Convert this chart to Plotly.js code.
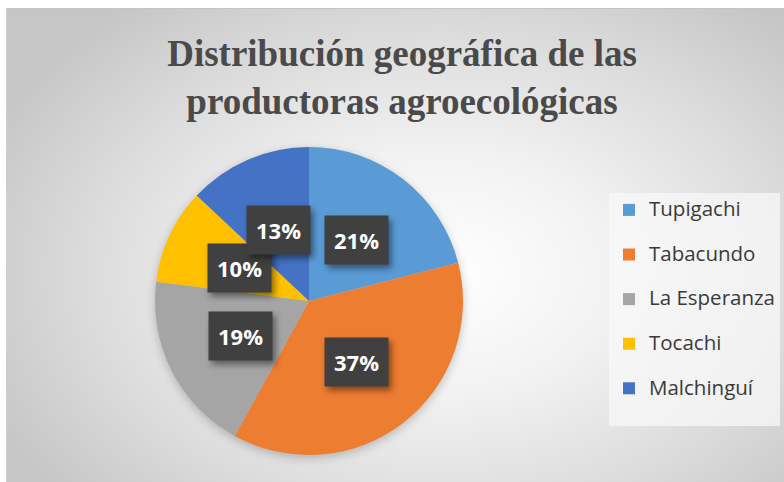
<!DOCTYPE html>
<html>
<head>
<meta charset="utf-8">
<script src="https://cdn.plot.ly/plotly-3.0.1.min.js"></script>
<style>
  html, body { margin: 0; padding: 0; background: #ffffff; overflow: hidden; }
  #frame {
    position: absolute; left: 6px; top: 8px; width: 800px; height: 490px;
    background: radial-gradient(ellipse 62% 70% at 54% 54%, #ffffff 0%, #f2f2f2 35%, #dcdcdc 70%, #c6c6c6 100%);
    border-top: 1px solid #c4c4c4; border-left: 1px solid #d0d0d0;
  }
  #chart { position: absolute; left: 0; top: 0; width: 784px; height: 482px; }
  #chart .pielayer { filter: drop-shadow(0px 3px 5px rgba(0,0,0,0.22)); }
  #chart .annotation rect.bg { filter: drop-shadow(3px 4px 3px rgba(0,0,0,0.45)); }
</style>
</head>
<body>
<div id="frame"></div>
<div id="chart"></div>
<script>
// ---- data ----
const categories = ['Tupigachi', 'Tabacundo', 'La Esperanza', 'Tocachi', 'Malchinguí'];
const values = [21, 37, 19, 10, 13];
const colors = ['#5B9BD5', '#ED7D31', '#A5A5A5', '#FFC000', '#4472C4'];
const titleText = 'Distribución geográfica de las<br>productoras agroecológicas';

// ---- layout geometry ----
const W = 784, H = 482;
const domX = [155 / W, 463 / W];
const domY = [1 - 455 / H, 1 - 147 / H];
const cx = (domX[0] + domX[1]) / 2, cy = (domY[0] + domY[1]) / 2;
const R = Math.min((domX[1] - domX[0]) * W, (domY[1] - domY[0]) * H) / 2;

// legend labels: extra blank line gives Excel-like spacing
const legendLabels = categories.map(c => '<span style="font-size:20.5px">' + c + '</span><br> ');

const trace = {
  type: 'pie',
  labels: legendLabels,
  values: values,
  sort: false,
  direction: 'clockwise',
  rotation: 0,
  marker: { colors: colors, line: { width: 0 } },
  textinfo: 'none',
  hoverinfo: 'skip',
  domain: { x: domX, y: domY },
  showlegend: true
};

// data labels positioned at mid-angle of each slice
const total = values.reduce((a, b) => a + b, 0);
const labels = [];
let cum = 0;
values.forEach((v, i) => {
  const mid = (cum + v / 2) / total * 2 * Math.PI;
  cum += v;
  const r = 0.5 * R;
  const x = cx + r * Math.sin(mid) / W;
  const y = cy + r * Math.cos(mid) / H;
  const pct = Math.round(v / total * 100) + '%';
  labels.push({
    x: x, y: y, xref: 'paper', yref: 'paper', xanchor: 'center', yanchor: 'middle',
    text: '<b>' + pct + '</b>', showarrow: false,
    font: { family: 'Open Sans', size: 22, color: '#ffffff' },
    bgcolor: '#404040', borderpad: 9
  });
});

const layout = {
  width: W, height: H,
  margin: { l: 0, r: 0, t: 0, b: 0 },
  paper_bgcolor: 'rgba(0,0,0,0)',
  plot_bgcolor: 'rgba(0,0,0,0)',
  title: {
    text: titleText,
    x: 402 / W, xanchor: 'center',
    y: 1 - 66 / H, yanchor: 'top',
    font: { family: 'Liberation Serif', size: 37, color: '#4a4a4a', weight: 'bold' }
  },
  legend: {
    x: 609 / W, xanchor: 'left',
    y: 1 - 193 / H, yanchor: 'top',
    bgcolor: 'rgba(248,248,248,0.75)',
    borderwidth: 0,
    valign: 'top',
    font: { family: 'Open Sans', size: 16, color: '#3a3a3a' },
    itemclick: false, itemdoubleclick: false
  },
  annotations: labels,
  showlegend: true
};

Plotly.newPlot('chart', [trace], layout, { displayModeBar: false, staticPlot: true });
</script>
</body>
</html>
